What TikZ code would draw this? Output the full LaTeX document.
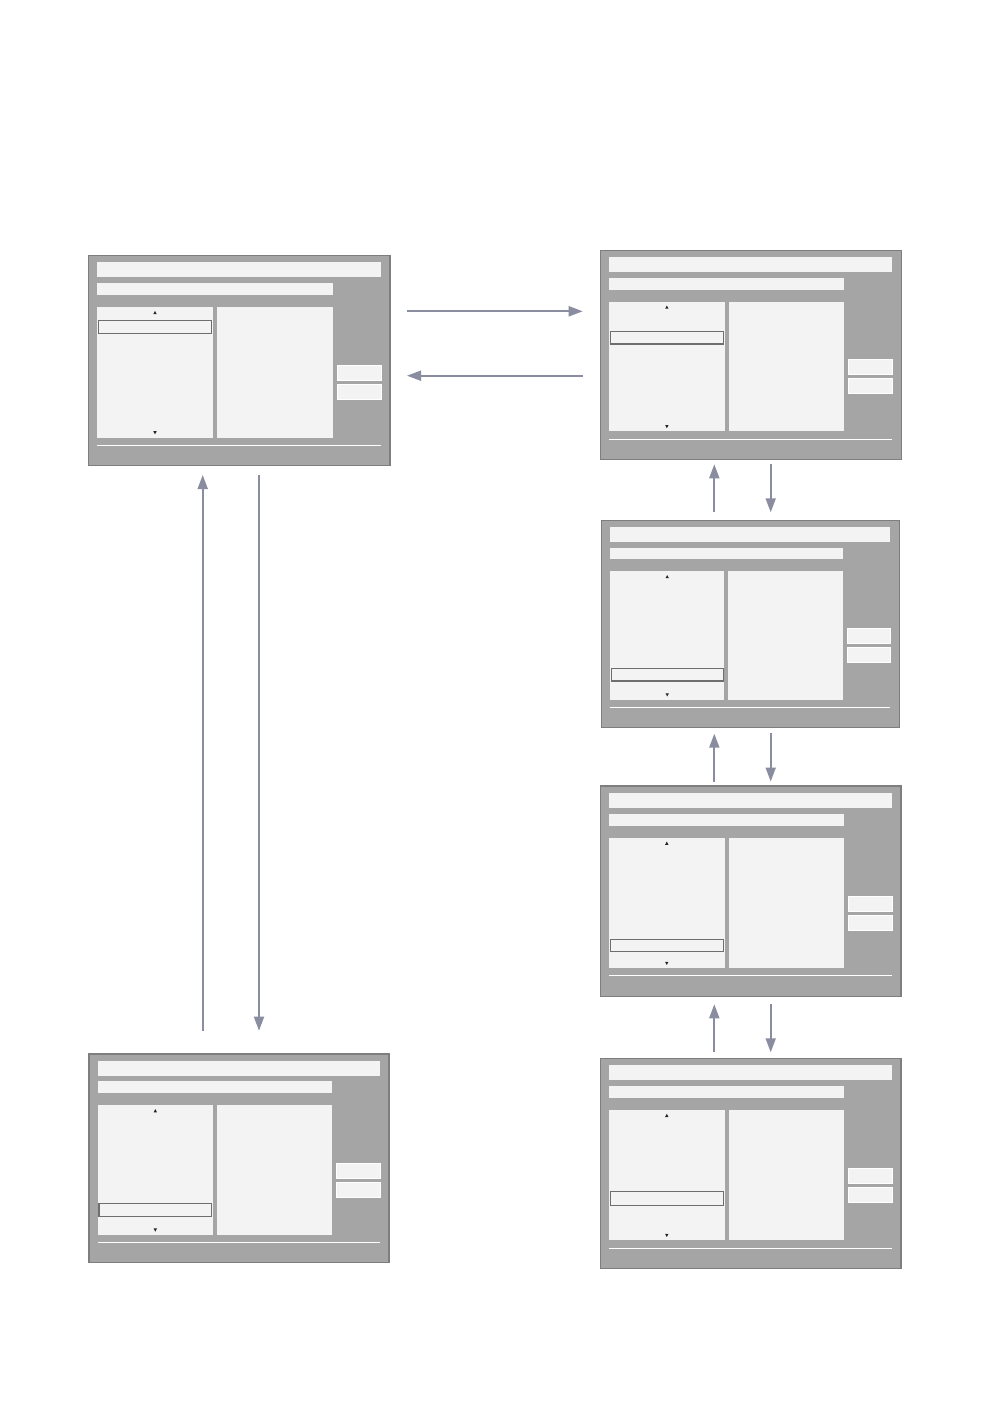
\documentclass[tikz,border=0pt]{standalone}
\usetikzlibrary{arrows.meta}
\definecolor{scrfill}{HTML}{A6A5A6}
\definecolor{scrline}{HTML}{7E7E7E}
\definecolor{panel}{HTML}{F3F3F3}
\definecolor{hl}{HTML}{6E6E6E}
\definecolor{arrowc}{HTML}{8A8DA0}
\tikzset{
  screen/.style={draw=scrline, fill=scrfill, line width=1.4pt, inner sep=0pt, outer sep=0pt, rectangle},
  pane/.style={fill=panel},
  btn/.style={fill=panel, draw=white, line width=0.9pt},
  hlbox/.style={draw=hl, line width=1.2pt},
  tri/.style={fill=black!85},
  flow/.style={draw=arrowc, line width=1.8pt, -{Triangle[length=14pt,width=10pt]}},
}
% #1 name, #2 x0, #3 y0, #4 x1, #5 y1, #6 highlight top, #7 highlight bottom
\newcommand\scr[7]{%
  \node[screen, anchor=north west, minimum width={#4-#2}, minimum height={#5-#3}] (#1) at (#2,#3) {};
  \begin{scope}[shift={(#2,#3)}, xscale={(#4-#2)/301.7}, yscale={(#5-#3)/210.4}]
    \fill[pane] (8.7,6.7) rectangle (292.7,21.7);
    \fill[pane] (8.7,27.7) rectangle (244.7,39.7);
    \fill[pane] (8.7,51.7) rectangle (124.7,182.4);
    \fill[pane] (128.7,51.7) rectangle (244.7,182.4);
    \draw[btn] (248.9,110.0) rectangle (293.2,125.2);
    \draw[btn] (248.9,129.0) rectangle (293.2,144.5);
    \draw[white, line width=0.9pt] (8.7,190) -- (292.7,190);
    \draw[hlbox] (10,#6) rectangle (123.5,#7);
    \fill[tri] (66.7,55.6) -- (68.4,58.8) -- (65.0,58.8) -- cycle;
    \fill[tri] (65.0,175.9) -- (68.4,175.9) -- (66.7,179.1) -- cycle;
  \end{scope}
}
\begin{document}
\begin{tikzpicture}[x=1pt, y=-1pt]
  \useasboundingbox[fill=white] (0,0) rectangle (999,1418);

  \scr{s1}{88.3}{255.3}{390}{465.7}{65}{78.5}
  \scr{s2}{600.3}{250.3}{901.3}{459.3}{82}{94.4}
  \scr{s3}{601.3}{520.3}{899.3}{727.3}{151}{163.4}
  \scr{s4}{600.3}{786}{901}{996.3}{153.3}{165.7}
  \scr{s5}{600.3}{1058.3}{901}{1268.3}{133.7}{147.4}
  \scr{s6}{89}{1054}{389}{1262.7}{151}{163.7}

  % connector end points
  \coordinate (h1a) at (407,311.3);   \coordinate (h1b) at (582.7,311.3);
  \coordinate (h2a) at (582.7,375.7); \coordinate (h2b) at (407,375.7);
  \coordinate (v1a) at (202.7,1030.7); \coordinate (v1b) at (202.7,475);
  \coordinate (v2a) at (259,475);     \coordinate (v2b) at (259,1030.7);
  \coordinate (r1a) at (714.3,512.3); \coordinate (r1b) at (714.3,464.3);
  \coordinate (r2a) at (770.7,464);   \coordinate (r2b) at (770.7,512.3);
  \coordinate (r3a) at (714.3,781.7); \coordinate (r3b) at (714.3,733.7);
  \coordinate (r4a) at (770.7,733.3); \coordinate (r4b) at (770.7,781.5);
  \coordinate (r5a) at (714.3,1052.3); \coordinate (r5b) at (714.3,1004.3);
  \coordinate (r6a) at (770.7,1004);  \coordinate (r6b) at (770.7,1052.3);

  \draw[flow] (h1a) -- (h1b);
  \draw[flow] (h2a) -- (h2b);
  \draw[flow] (v1a) -- (v1b);
  \draw[flow] (v2a) -- (v2b);
  \draw[flow] (r1a) -- (r1b);
  \draw[flow] (r2a) -- (r2b);
  \draw[flow] (r3a) -- (r3b);
  \draw[flow] (r4a) -- (r4b);
  \draw[flow] (r5a) -- (r5b);
  \draw[flow] (r6a) -- (r6b);
\end{tikzpicture}
\end{document}
